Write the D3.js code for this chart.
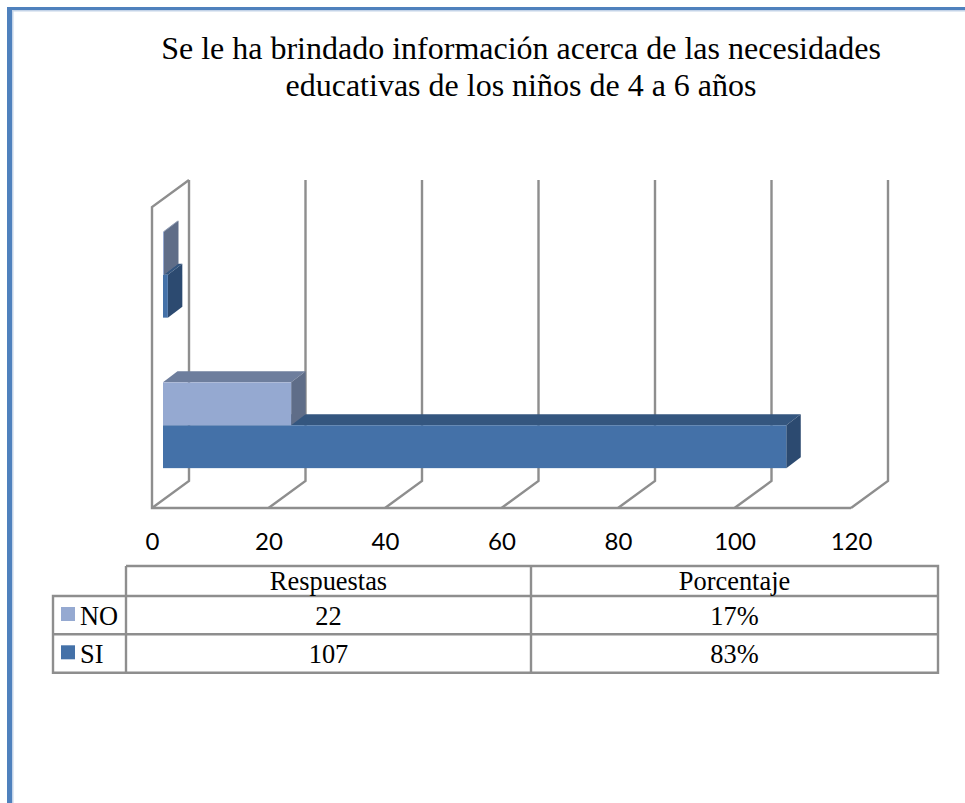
<!DOCTYPE html>
<html>
<head>
<meta charset="utf-8">
<script src="https://cdn.jsdelivr.net/npm/d3@7"></script>
<style>html,body{margin:0;padding:0;background:#fff;overflow:hidden}svg{display:block}</style>
</head>
<body>
<svg id="c" width="965" height="803"></svg>
<script>
const titleLines = ["Se le ha brindado información acerca de las necesidades", "educativas de los niños de 4 a 6 años"];
const categories = ["Respuestas", "Porcentaje"];
const seriesNames = ["NO", "SI"];
const noValues = [22, 0.17];
const siValues = [107, 0.83];
const noLabels = ["22", "17%"];
const siLabels = ["107", "83%"];
const xTicks = [0, 20, 40, 60, 80, 100, 120];

const svg = d3.select("#c");
const serif = "'Liberation Serif', serif";
const gridColor = "#8e8e8e";

// page border
svg.append("rect").attr("x", 12).attr("y", 10).attr("width", 953).attr("height", 1.5).attr("fill", "#c3d3e8");
svg.append("rect").attr("x", 12).attr("y", 10).attr("width", 1.5).attr("height", 793).attr("fill", "#c3d3e8");
svg.append("rect").attr("x", 7).attr("y", 7).attr("width", 958).attr("height", 3).attr("fill", "#4f81bd");
svg.append("rect").attr("x", 7).attr("y", 7).attr("width", 5).attr("height", 796).attr("fill", "#4f81bd");

// title
svg.append("g").selectAll("text").data(titleLines).join("text")
  .attr("x", 521).attr("y", (d, i) => 59 + i * 37)
  .attr("text-anchor", "middle").attr("font-family", serif).attr("font-size", 32).attr("fill", "#000")
  .text(d => d);

// 3D frame
const floorY = 508, wallTop = 207, depthX = 37, depthY = -27;
const x = d3.scaleLinear().domain([0, 120]).range([152, 851]);
const yCat = d3.scaleBand().domain(categories).range([floorY, wallTop]).paddingInner(0.43).paddingOuter(0.215);
const ySer = d3.scaleBand().domain(seriesNames).range([0, yCat.bandwidth()]);

const frame = svg.append("g").attr("fill", "none").attr("stroke", gridColor).attr("stroke-width", 2.4);
frame.selectAll("path.wall").data(xTicks).join("path").attr("class", "wall")
  .attr("d", t => `M${x(t)},${floorY}L${x(t) + depthX},${floorY + depthY}V${wallTop + depthY}`);
frame.append("path").attr("d", `M${x(0) + depthX},${wallTop + depthY}L${x(0)},${wallTop}V${floorY}H${x(120)}`);

// bars: the lower box (SI) is painted first, the box resting on it (NO) covers its top face
const zDepthX = 14.5, zDepthY = -11;
const frontDX = 11, frontDY = -7.5;
const colors = {
  NO: { front: "#95a9d1", top: "#6e7e9d", side: "#5f6d88" },
  SI: { front: "#4471a8", top: "#34567f", side: "#2c4a70" }
};
const rows = [];
categories.forEach((c, i) => {
  rows.push({ cat: c, ser: "SI", v: siValues[i] });
  rows.push({ cat: c, ser: "NO", v: noValues[i] });
});
svg.append("g").selectAll("g").data(rows).join("g").each(function (d) {
  const g = d3.select(this), col = colors[d.ser];
  const x0 = x(0) + frontDX, x1 = x(d.v) + frontDX;
  const y0 = yCat(d.cat) + ySer(d.ser) + frontDY, h = ySer.bandwidth();
  g.append("path").attr("fill", col.top)
    .attr("d", `M${x0},${y0}L${x0 + zDepthX},${y0 + zDepthY}H${x1 + zDepthX}L${x1},${y0}Z`);
  g.append("path").attr("fill", col.side)
    .attr("d", `M${x1},${y0}L${x1 + zDepthX},${y0 + zDepthY}V${y0 + zDepthY + h}L${x1},${y0 + h}Z`);
  g.append("rect").attr("fill", col.front).attr("x", x0).attr("y", y0).attr("width", x1 - x0).attr("height", h);
});

// value axis labels
const axis = svg.append("g").attr("transform", "translate(0,536)")
  .call(d3.axisBottom(x).tickValues(xTicks).tickSize(0).tickPadding(0).tickFormat(d3.format("d")));
axis.select(".domain").remove();
axis.selectAll("text").attr("font-family", "Lato, sans-serif").attr("font-size", 24).attr("fill", "#000").attr("dy", "0.6em");

// data table
const colX = [53, 126, 531, 938], rowY = [566, 596, 634.3, 672.7];
const tbl = svg.append("g").attr("fill", "none").attr("stroke", gridColor).attr("stroke-width", 2.4);
tbl.append("path").attr("d", `M${colX[1]},${rowY[0]}H${colX[3]}V${rowY[3]}H${colX[0]}V${rowY[1]}H${colX[3]}`);
tbl.append("path").attr("d", `M${colX[0]},${rowY[2]}H${colX[3]}`);
tbl.append("path").attr("d", `M${colX[1]},${rowY[0]}V${rowY[3]}`);
tbl.append("path").attr("d", `M${colX[2]},${rowY[0]}V${rowY[3]}`);

const tText = (sel, tx, ty, s, anchor) => sel.append("text").attr("x", tx).attr("y", ty)
  .attr("text-anchor", anchor || "middle").attr("font-family", serif).attr("font-size", 26.4).attr("fill", "#000").text(s);
categories.forEach((c, i) => {
  const cx = (colX[i + 1] + colX[i + 2]) / 2;
  tText(svg, cx, 590, c);
  tText(svg, cx, 625, noLabels[i]);
  tText(svg, cx, 663, siLabels[i]);
});
seriesNames.forEach((s, i) => {
  const top = rowY[i + 1];
  svg.append("rect").attr("x", 61).attr("y", top + 11).attr("width", 14).attr("height", 14).attr("fill", colors[s].front);
  tText(svg, 80, i === 0 ? 625 : 663, s, "start");
});
</script>
</body>
</html>
